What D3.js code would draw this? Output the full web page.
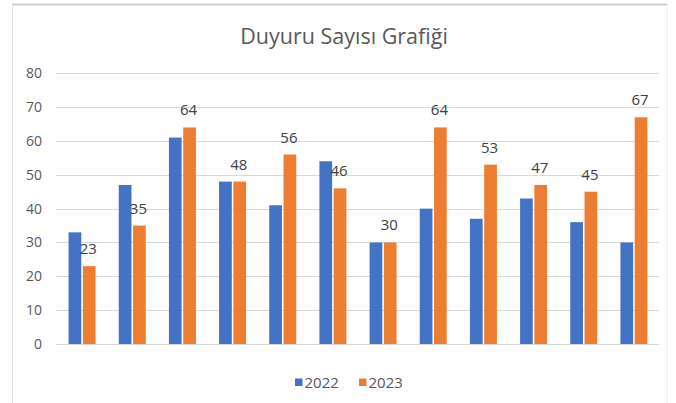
<!DOCTYPE html>
<html>
<head>
<meta charset="utf-8">
<script src="https://cdn.jsdelivr.net/npm/d3@7"></script>
<style>
  html, body { margin: 0; padding: 0; background: #ffffff; }
  svg { display: block; }
</style>
</head>
<body>
<svg id="chart" width="676" height="403"></svg>
<script>
const title = "Duyuru Sayısı Grafiği";
const categories = ["1", "2", "3", "4", "5", "6", "7", "8", "9", "10", "11", "12"];
const seriesNames = ["2022", "2023"];
const values2022 = [33, 47, 61, 48, 41, 54, 30, 40, 37, 43, 36, 30];
const values2023 = [23, 35, 64, 48, 56, 46, 30, 64, 53, 47, 45, 67];
const yTicks = [0, 10, 20, 30, 40, 50, 60, 70, 80];
const colors = ["#4472C4", "#ED7D31"];

const svg = d3.select("#chart");
const W = 676, H = 403;
const margin = { left: 56, right: 17, top: 73.3, bottom: 59 };
const font = "'Open Sans', sans-serif";

// frame
svg.append("rect").attr("x", 0).attr("y", 0).attr("width", W).attr("height", H).attr("fill", "#ffffff");
svg.append("line").attr("x1", 12).attr("x2", 667).attr("y1", 4.5).attr("y2", 4.5)
  .attr("stroke", "#cfcfcf").attr("stroke-width", 2);
svg.append("line").attr("x1", 12.5).attr("x2", 12.5).attr("y1", 4).attr("y2", H)
  .attr("stroke", "#e2e2e2").attr("stroke-width", 1);
svg.append("line").attr("x1", 667.5).attr("x2", 667.5).attr("y1", 4).attr("y2", H)
  .attr("stroke", "#f0f0f0").attr("stroke-width", 1);

const x = d3.scaleBand().domain(categories).range([margin.left + 1, W - margin.right]).paddingInner(0).paddingOuter(0);
const y = d3.scaleLinear().domain([0, 80]).range([344, 73.3]);

// gridlines
svg.append("g").selectAll("line").data(yTicks).join("line")
  .attr("x1", margin.left).attr("x2", W - margin.right)
  .attr("y1", d => Math.round(y(d)) + 0.5).attr("y2", d => Math.round(y(d)) + 0.5)
  .attr("stroke", "#d9d9d9").attr("stroke-width", 1);

// y axis labels
const yAxis = d3.axisLeft(y).tickValues(yTicks).tickSize(0).tickPadding(0);
const gy = svg.append("g").attr("transform", "translate(42,0)").call(yAxis);
gy.select(".domain").remove();
gy.selectAll("text").attr("fill", "#595959").attr("font-family", font)
  .attr("font-size", "14px");

// bars
const inner = d3.scaleBand().domain(seriesNames).range([-13.5, 13.5]).paddingInner(0.11);
const data = categories.map((c, i) => ({ c, v: [values2022[i], values2023[i]] }));
const groups = svg.append("g").selectAll("g").data(data).join("g")
  .attr("transform", d => `translate(${x(d.c) + x.bandwidth() / 2},0)`);
groups.selectAll("rect").data(d => seriesNames.map((s, k) => ({ s, v: d.v[k], k }))).join("rect")
  .attr("x", d => inner(d.s)).attr("width", inner.bandwidth())
  .attr("y", d => y(d.v)).attr("height", d => y(0) - y(d.v))
  .attr("fill", d => colors[d.k]);

// data labels for 2023
groups.append("text")
  .attr("x", inner("2023") + inner.bandwidth() / 2 - 1)
  .attr("y", (d) => y(d.v[1]) - 12)
  .attr("text-anchor", "middle")
  .attr("fill", "#404040")
  .attr("font-family", font)
  .attr("font-size", "15px")
  .text(d => d.v[1]);

// title
svg.append("text").attr("x", 344).attr("y", 44).attr("text-anchor", "middle")
  .attr("fill", "#595959").attr("font-family", font)
  .attr("font-size", "21.5px").text(title);

// legend
const legend = svg.append("g");
const legendX = [295, 359];
seriesNames.forEach((s, k) => {
  legend.append("rect").attr("x", legendX[k]).attr("y", 378.5).attr("width", 7.5).attr("height", 7.5).attr("fill", colors[k]);
  legend.append("text").attr("x", legendX[k] + 9.5).attr("y", 388).attr("fill", "#595959")
    .attr("font-family", font).attr("font-size", "15px").text(s);
});
</script>
</body>
</html>
